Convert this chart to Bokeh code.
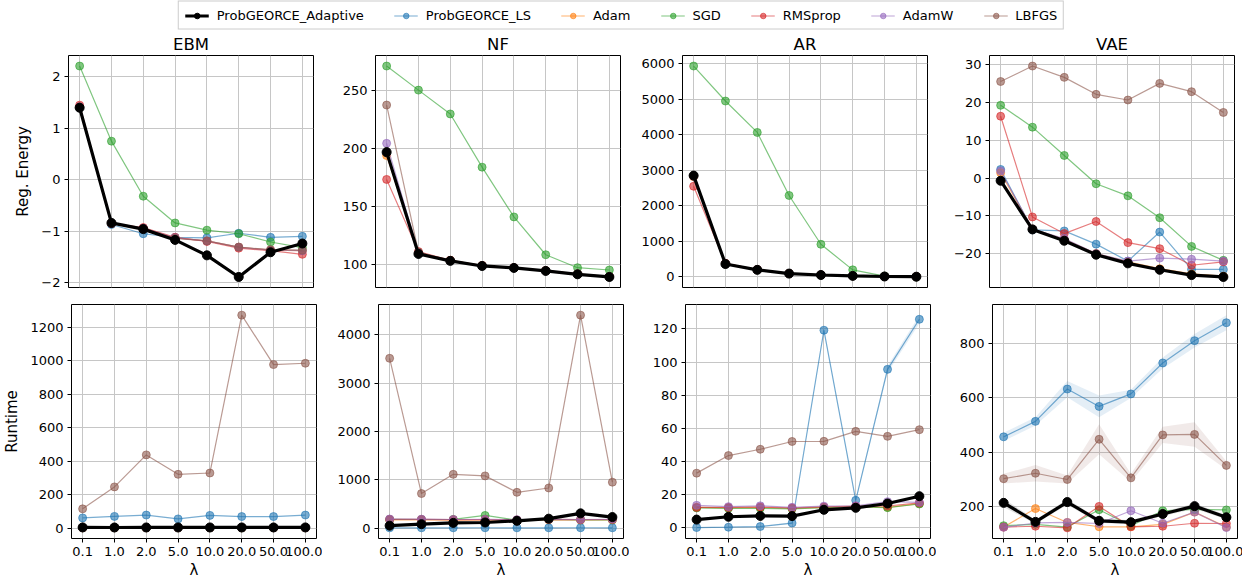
from bokeh.plotting import figure
from bokeh.layouts import column, row
from bokeh.models import (FactorRange, FixedTicker, CustomJSTickFormatter, Legend,
                          LegendItem, ColumnDataSource)
from bokeh.embed import file_html
from bokeh.resources import INLINE

# ---------------- data ----------------
LAMBDAS = ["0.1", "1.0", "2.0", "5.0", "10.0", "20.0", "50.0", "100.0"]
METHODS = ["ProbGEORCE_Adaptive", "ProbGEORCE_LS", "Adam", "SGD", "RMSprop", "AdamW", "LBFGS"]
COLORS = {"ProbGEORCE_Adaptive": "black", "ProbGEORCE_LS": "#1f77b4", "Adam": "#ff7f0e",
          "SGD": "#2ca02c", "RMSprop": "#d62728", "AdamW": "#9467bd", "LBFGS": "#8c564b"}
MODELS = ["EBM", "NF", "AR", "VAE"]

ebm_energy = {
    "ProbGEORCE_Adaptive": [1.40, -0.84, -0.96, -1.17, -1.47, -1.89, -1.41, -1.24],
    "ProbGEORCE_LS": [1.40, -0.87, -1.05, -1.12, -1.13, -1.04, -1.12, -1.10],
    "Adam": [1.42, -0.85, -0.94, -1.13, -1.19, -1.31, -1.37, -1.38],
    "SGD": [2.21, 0.75, -0.32, -0.84, -0.98, -1.05, -1.21, -1.32],
    "RMSprop": [1.45, -0.85, -0.93, -1.12, -1.20, -1.33, -1.38, -1.45],
    "AdamW": [1.42, -0.85, -0.94, -1.13, -1.19, -1.31, -1.37, -1.38],
    "LBFGS": [1.41, -0.85, -0.95, -1.14, -1.19, -1.31, -1.36, -1.37],
}
nf_energy = {
    "ProbGEORCE_Adaptive": [197, 109, 103, 98.6, 96.9, 94.3, 91.4, 89.1],
    "ProbGEORCE_LS": [196, 109, 103, 98.6, 96.9, 94.3, 91.4, 89.1],
    "Adam": [194, 110, 103.5, 99, 97, 94.5, 91.6, 89.3],
    "SGD": [271.4, 250.6, 230, 184, 141, 108.3, 97.1, 95.1],
    "RMSprop": [173.4, 111, 103.5, 99, 97.2, 94.6, 91.7, 89.4],
    "AdamW": [204.6, 110, 103.2, 98.8, 97, 94.4, 91.5, 89.2],
    "LBFGS": [237.7, 110.5, 103.3, 98.9, 97, 94.4, 91.5, 89.2],
}
ar_energy = {
    "ProbGEORCE_Adaptive": [2850, 360, 195, 90, 50, 25, 8, 2],
    "ProbGEORCE_LS": [2840, 360, 195, 90, 50, 25, 8, 2],
    "Adam": [2820, 370, 200, 92, 52, 26, 9, 3],
    "SGD": [5935, 4950, 4065, 2290, 915, 195, 20, -5],
    "RMSprop": [2550, 380, 205, 95, 55, 28, 10, 3],
    "AdamW": [2830, 365, 198, 91, 51, 25, 8, 2],
    "LBFGS": [2845, 362, 196, 90, 50, 25, 8, 2],
}
vae_energy = {
    "ProbGEORCE_Adaptive": [-0.7, -13.6, -16.6, -20.3, -22.6, -24.3, -25.7, -26.2],
    "ProbGEORCE_LS": [2.3, -13.7, -14.0, -17.5, -22.0, -14.3, -24.2, -24.2],
    "Adam": [1.4, -13.5, -16.2, -20.0, -22.2, -24.0, -25.4, -26.0],
    "SGD": [19.3, 13.5, 6.0, -1.5, -4.7, -10.5, -18.1, -21.8],
    "RMSprop": [16.4, -10.3, -14.7, -11.5, -17.1, -18.7, -23.1, -22.2],
    "AdamW": [1.9, -13.5, -16.0, -20.0, -22.0, -21.2, -21.5, -22.0],
    "LBFGS": [25.6, 29.7, 26.7, 22.2, 20.7, 25.1, 22.9, 17.4],
}
ebm_runtime = {
    "ProbGEORCE_Adaptive": [5.2, 4.8, 4.9, 5.1, 5.0, 4.9, 5.0, 5.1],
    "ProbGEORCE_LS": [62, 71, 79, 56, 77, 70, 70, 79],
    "Adam": [3.1, 3.0, 3.2, 3.0, 3.1, 3.0, 3.2, 3.1],
    "SGD": [2.6, 2.5, 2.7, 2.6, 2.5, 2.6, 2.7, 2.6],
    "RMSprop": [3.2, 3.1, 3.0, 3.2, 3.1, 3.2, 3.0, 3.1],
    "AdamW": [3.3, 3.2, 3.3, 3.1, 3.2, 3.3, 3.2, 3.3],
    "LBFGS": [116, 247, 438, 322, 330, 1272, 977, 985],
}
nf_runtime = {
    "ProbGEORCE_Adaptive": [50, 82, 108, 116, 150, 195, 305, 228],
    "ProbGEORCE_LS": [5, 6, 6, 7, 6, 6, 7, 6],
    "Adam": [170, 168, 165, 170, 160, 175, 168, 170],
    "SGD": [180, 178, 180, 262, 165, 180, 172, 172],
    "RMSprop": [182, 180, 175, 178, 170, 180, 175, 178],
    "AdamW": [188, 185, 178, 180, 175, 182, 178, 182],
    "LBFGS": [3512, 715, 1112, 1080, 740, 830, 4405, 950],
}
ar_runtime = {
    "ProbGEORCE_Adaptive": [5.0, 6.7, 7.2, 7.1, 10.9, 12.1, 14.7, 19.1],
    "ProbGEORCE_LS": [0.2, 0.4, 0.8, 2.9, 119.2, 16.6, 95.6, 125.8],
    "Adam": [12.4, 12.1, 12.3, 11.8, 12.4, 12.8, 12.4, 14.6],
    "SGD": [12.0, 11.8, 11.8, 11.5, 12.2, 12.6, 12.2, 14.4],
    "RMSprop": [12.3, 12.3, 12.6, 12.0, 12.6, 13.1, 13.2, 15.1],
    "AdamW": [13.6, 12.8, 13.3, 12.4, 13.1, 13.3, 15.8, 15.4],
    "LBFGS": [33.0, 43.6, 47.4, 52.1, 52.2, 58.2, 55.2, 59.2],
}
vae_runtime = {
    "ProbGEORCE_Adaptive": [214, 144, 217, 148, 143, 173, 202, 161],
    "ProbGEORCE_LS": [457, 514, 633, 569, 615, 729, 811, 877],
    "Adam": [125, 193, 142, 126, 126, 135, 180, 125],
    "SGD": [130, 135, 125, 189, 130, 185, 190, 188],
    "RMSprop": [125, 128, 122, 201, 126, 128, 139, 138],
    "AdamW": [124, 140, 142, 138, 185, 139, 180, 123],
    "LBFGS": [303, 323, 300, 448, 306, 464, 466, 352],
}
# half-width of the shaded spread bands (runtime)
vae_runtime_spread = {
    "ProbGEORCE_Adaptive": [15, 8, 10, 8, 8, 8, 10, 8],
    "ProbGEORCE_LS": [15, 15, 30, 40, 15, 20, 25, 28],
    "LBFGS": [18, 30, 15, 55, 15, 30, 45, 15],
}
ar_runtime_spread = {
    "ProbGEORCE_LS": [0.2, 0.2, 0.3, 0.5, 1.0, 0.8, 2.0, 2.5],
}

TOP_DATA = [ebm_energy, nf_energy, ar_energy, vae_energy]
BOT_DATA = [ebm_runtime, nf_runtime, ar_runtime, vae_runtime]
BOT_SPREAD = [{}, {}, ar_runtime_spread, vae_runtime_spread]

TOP_TICKS = [[-2, -1, 0, 1, 2], [100, 150, 200, 250],
             [0, 1000, 2000, 3000, 4000, 5000, 6000], [-20, -10, 0, 10, 20, 30]]
BOT_TICKS = [[0, 200, 400, 600, 800, 1000, 1200], [0, 1000, 2000, 3000, 4000],
             [0, 20, 40, 60, 80, 100, 120], [200, 400, 600, 800]]

FONT = "DejaVu Sans"
FRAME_W = 245
GRID_COLOR = "#c6c6c6"

minus_fmt = CustomJSTickFormatter(
    code="return (tick < 0 ? '\u2212' : '') + Math.abs(tick).toString();")


def style(p, ticks, show_xaxis):
    p.outline_line_color = "black"
    p.outline_line_width = 1
    p.outline_line_alpha = 1
    p.xgrid.grid_line_color = GRID_COLOR
    p.ygrid.grid_line_color = GRID_COLOR
    p.xgrid.grid_line_width = 1
    p.ygrid.grid_line_width = 1
    for ax in (p.xaxis[0], p.yaxis[0]):
        ax.axis_line_color = None
        ax.major_tick_line_color = "black"
        ax.major_tick_out = 4
        ax.major_tick_in = 0
        ax.minor_tick_line_color = None
        ax.major_label_text_font = FONT
        ax.major_label_text_font_size = "13px"
        ax.major_label_text_color = "black"
        ax.axis_label_text_font = FONT
        ax.axis_label_text_font_size = "15px"
        ax.axis_label_text_font_style = "normal"
        ax.axis_label_text_color = "black"
    p.yaxis[0].ticker = FixedTicker(ticks=ticks)
    p.yaxis[0].formatter = minus_fmt
    p.yaxis[0].major_label_standoff = 4
    p.yaxis[0].axis_label_standoff = 6
    if show_xaxis:
        p.xaxis[0].major_label_standoff = 4
        p.xaxis[0].axis_label = "λ"
        p.xaxis[0].axis_label_standoff = 2
    else:
        p.xaxis[0].visible = False


def draw(p, data, spread):
    order = METHODS[1:] + METHODS[:1]
    for m in order:
        if m in spread:
            lo = [v - s for v, s in zip(data[m], spread[m])]
            hi = [v + s for v, s in zip(data[m], spread[m])]
            src_b = ColumnDataSource(dict(x=LAMBDAS, lo=lo, hi=hi))
            p.varea(x="x", y1="lo", y2="hi", source=src_b, fill_color=COLORS[m],
                    fill_alpha=0.12)
    for m in order:
        src = ColumnDataSource(dict(x=LAMBDAS, y=data[m]))
        if m == "ProbGEORCE_Adaptive":
            p.line("x", "y", source=src, line_color="black", line_width=3.2)
            p.scatter("x", "y", source=src, size=9, fill_color="black", line_color="black")
        else:
            p.line("x", "y", source=src, line_color=COLORS[m], line_width=1.2, line_alpha=0.6)
            p.scatter("x", "y", source=src, size=8, fill_color=COLORS[m], fill_alpha=0.6,
                      line_color=COLORS[m], line_alpha=0.6)


def make(i, top):
    left = 68 if i == 0 else 56
    kwargs = dict(
        x_range=FactorRange(*LAMBDAS, range_padding=-0.15, range_padding_units="absolute"),
        frame_width=FRAME_W, frame_height=232 if top else 234,
        output_backend="svg", toolbar_location=None,
        min_border_left=left, min_border_right=6,
    )
    if top:
        kwargs.update(min_border_top=0, min_border_bottom=4, title=MODELS[i])
    else:
        kwargs.update(min_border_top=13, min_border_bottom=0)
    p = figure(**kwargs)
    style(p, TOP_TICKS[i] if top else BOT_TICKS[i], not top)
    if top:
        p.title.align = "center"
        p.title.text_font = FONT
        p.title.text_font_size = "16.5px"
        p.title.text_font_style = "normal"
        p.title.text_color = "black"
        p.title.standoff = 4
    if i == 0:
        p.yaxis[0].axis_label = "Reg. Energy" if top else "Runtime"
    draw(p, TOP_DATA[i] if top else BOT_DATA[i], {} if top else BOT_SPREAD[i])
    return p


top_row = [make(i, True) for i in range(4)]
bot_row = [make(i, False) for i in range(4)]

# legend strip (renderers hold a single NaN point, so only their legend glyphs show)
lf = figure(width=1242, height=30, output_backend="svg", toolbar_location=None,
            min_border=0, x_range=(0, 1), y_range=(0, 1))
lf.axis.visible = False
lf.grid.visible = False
lf.outline_line_color = None
items = []
for m in METHODS:
    src = ColumnDataSource(dict(x=[float("nan")], y=[float("nan")]))
    if m == "ProbGEORCE_Adaptive":
        r1 = lf.line("x", "y", source=src, line_color="black", line_width=3.2)
        r2 = lf.scatter("x", "y", source=src, size=9, fill_color="black", line_color="black")
    else:
        r1 = lf.line("x", "y", source=src, line_color=COLORS[m], line_width=1.2, line_alpha=0.6)
        r2 = lf.scatter("x", "y", source=src, size=8, fill_color=COLORS[m], fill_alpha=0.6,
                        line_color=COLORS[m], line_alpha=0.6)
    items.append(LegendItem(label=m, renderers=[r1, r2]))
leg = Legend(items=items, orientation="horizontal", location="center",
             label_text_font=FONT, label_text_font_size="13px", label_text_color="black",
             glyph_width=24, glyph_height=14, label_height=14, label_standoff=8,
             spacing=30, padding=6, margin=0, border_line_color="#cccccc",
             border_line_alpha=1, background_fill_alpha=0.8)
lf.add_layout(leg, "center")

layout = column(lf, row(*top_row), row(*bot_row), spacing=0)
open("out.html", "w").write(file_html(layout, INLINE))
